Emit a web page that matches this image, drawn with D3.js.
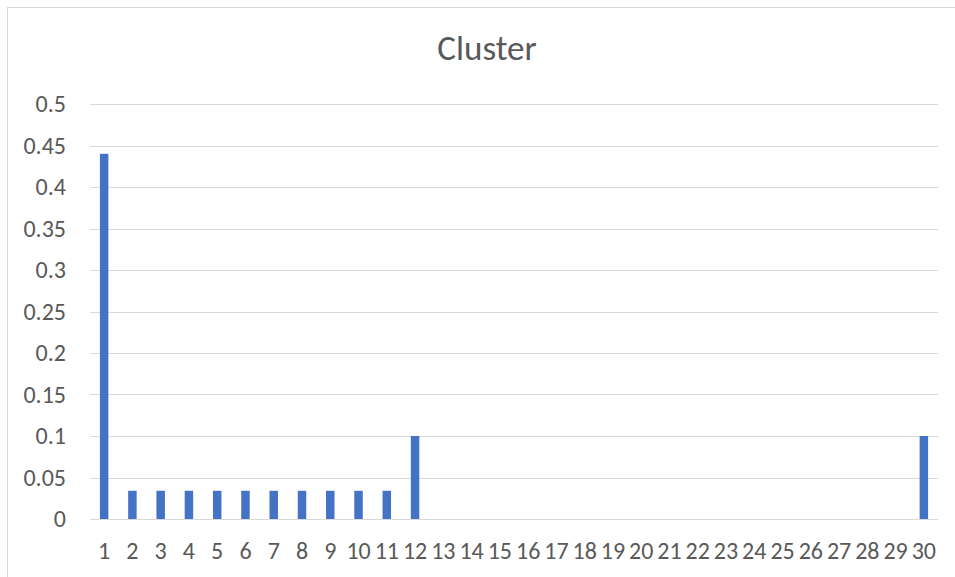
<!DOCTYPE html>
<html>
<head>
<meta charset="utf-8">
<script src="https://cdn.jsdelivr.net/npm/d3@7"></script>
<style>
  body { margin: 0; background: #fff; }
</style>
</head>
<body>
<div id="chart"></div>
<script>
// Chart data
const categories = d3.range(1, 31).map(String);
const values = [0.44, 0.034, 0.034, 0.034, 0.034, 0.034, 0.034, 0.034, 0.034, 0.034, 0.034, 0.1,
  0, 0, 0, 0, 0, 0, 0, 0, 0, 0, 0, 0, 0, 0, 0, 0, 0, 0.1];
const yTicks = [0, 0.05, 0.1, 0.15, 0.2, 0.25, 0.3, 0.35, 0.4, 0.45, 0.5];
const title = "Cluster";

const width = 955, height = 577;
const margin = { top: 104, right: 17, bottom: 58, left: 90 };
const font = "Carlito, 'Open Sans', 'Liberation Sans', sans-serif";

const data = categories.map((c, i) => ({ cat: c, value: values[i] }));

const svg = d3.select("#chart").append("svg")
    .attr("width", width)
    .attr("height", height);

// Chart area border
svg.append("rect")
    .attr("x", 7.5).attr("y", 7.5)
    .attr("width", width).attr("height", height)
    .attr("fill", "none")
    .attr("stroke", "#d9d9d9");

const x = d3.scaleBand().domain(categories)
    .range([margin.left, width - margin.right])
    .paddingInner(0.7).paddingOuter(0.35);

const y = d3.scaleLinear().domain([0, 0.5])
    .range([height - margin.bottom, margin.top]);

// Gridlines
svg.append("g")
    .selectAll("line")
    .data(yTicks)
    .join("line")
    .attr("x1", margin.left)
    .attr("x2", width - margin.right)
    .attr("y1", d => Math.round(y(d)) + 0.5)
    .attr("y2", d => Math.round(y(d)) + 0.5)
    .attr("stroke", "#d9d9d9")
    .attr("stroke-width", 1);

// Bars
svg.append("g")
    .selectAll("rect")
    .data(data)
    .join("rect")
    .attr("x", d => x(d.cat))
    .attr("y", d => y(d.value))
    .attr("width", x.bandwidth())
    .attr("height", d => y(0) - y(d.value))
    .attr("fill", "#4472c4");

// Y axis
const yAxis = svg.append("g")
    .attr("transform", `translate(${margin.left - 24},0)`)
    .call(d3.axisLeft(y).tickValues(yTicks).tickSize(0).tickPadding(0).tickFormat(d => String(d)));
yAxis.select(".domain").remove();
yAxis.selectAll("text")
    .attr("font-family", font)
    .attr("font-size", 24)
    .attr("fill", "#595959");

// X axis
const xAxis = svg.append("g")
    .attr("transform", `translate(0,${height - margin.bottom})`)
    .call(d3.axisBottom(x).tickSize(0).tickPadding(23));
xAxis.select(".domain").remove();
xAxis.selectAll("text")
    .attr("font-family", font)
    .attr("font-size", 24)
    .attr("fill", "#595959");

// Title
svg.append("text")
    .attr("x", 487)
    .attr("y", 60)
    .attr("text-anchor", "middle")
    .attr("font-family", font)
    .attr("font-size", 35)
    .attr("fill", "#595959")
    .text(title);
</script>
</body>
</html>
